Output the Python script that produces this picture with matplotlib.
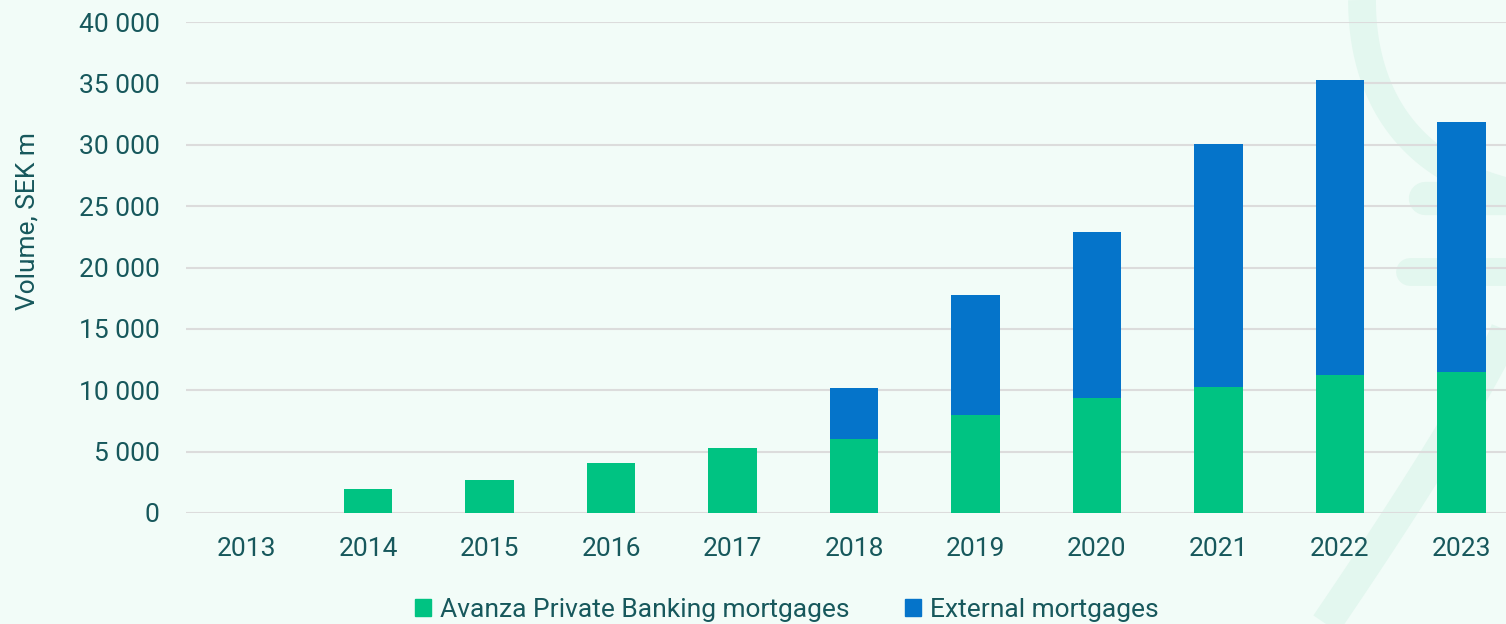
import numpy as np
import matplotlib
matplotlib.use("Agg")
import matplotlib.pyplot as plt
from matplotlib.patches import Patch

years = ["2013", "2014", "2015", "2016", "2017", "2018",
         "2019", "2020", "2021", "2022", "2023"]
private_banking = [0, 1950, 2700, 4050, 5300, 6050, 8000, 9350, 10250, 11250, 11500]
external = [0, 0, 0, 0, 0, 4150, 9750, 13550, 19800, 24050, 20350]
yticks = [0, 5000, 10000, 15000, 20000, 25000, 30000, 35000, 40000]

GREEN = "#00c382"
BLUE = "#0574ca"
TEXT = "#17585c"
BG = "#f2fcf8"
GRID = "#dcdcdc"
DECO = "#e3f7ef"

plt.rcParams["font.family"] = ["Roboto", "DejaVu Sans"]
FS = 19

W, H = 1506, 624
fig = plt.figure(figsize=(W / 100, H / 100), dpi=100, facecolor=BG)

# faint decorative symbol behind the chart
deco = fig.add_axes([0, 0, 1, 1], zorder=0)
deco.set_xlim(0, W); deco.set_ylim(H, 0); deco.axis("off")
t = np.linspace(0, 1, 60)
deco.plot(1362 + 160 * t ** 1.6, 0 + 300 * t ** 0.8 * (1 - 0.35 * t),
          color=DECO, lw=20, solid_capstyle="butt")
deco.plot([1425, 1506], [198, 198], color=DECO, lw=24, solid_capstyle="round")
deco.plot([1410, 1506], [272, 272], color=DECO, lw=20, solid_capstyle="round")
deco.plot(1506 - 180 * t, 330 + 294 * t ** 0.9, color=DECO, lw=22,
          solid_capstyle="butt")

ax = fig.add_axes([186 / W, (H - 513) / H, 1336 / W, (513 - 22) / H], zorder=1)
ax.set_facecolor("none")

x = np.arange(len(years))
ax.bar(x, private_banking, width=0.4, color=GREEN, zorder=3,
       label="Avanza Private Banking mortgages")
ax.bar(x, external, width=0.4, bottom=private_banking, color=BLUE, zorder=3,
       label="External mortgages")

ax.set_xlim(-0.5, len(years) - 0.5)
ax.set_ylim(0, 40000)
ax.set_yticks(yticks)
ax.set_yticklabels([f"{v:,}".replace(",", " ") for v in yticks])
ax.set_xticks(x)
ax.set_xticklabels(years)
ax.grid(axis="y", color=GRID, lw=1.5, zorder=0)
ax.set_axisbelow(True)
for s in ax.spines.values():
    s.set_visible(False)
ax.tick_params(axis="both", length=0, labelsize=FS, colors=TEXT)
ax.tick_params(axis="y", pad=19)
ax.tick_params(axis="x", pad=17.5)
fig.text(28 / W, 1 - 221 / H, "Volume, SEK m", rotation=90, ha="center",
         va="center", fontsize=FS, color=TEXT)

handles = [Patch(color=GREEN, label="Avanza Private Banking mortgages"),
           Patch(color=BLUE, label="External mortgages")]
fig.legend(handles=handles, loc="center", bbox_to_anchor=(787 / W, 1 - 610 / H),
           ncol=2, frameon=False, fontsize=FS, labelcolor=TEXT,
           handlelength=0.6, handleheight=0.6, handletextpad=0.35,
           columnspacing=2.1, borderpad=0)

fig.savefig("out.png", dpi=100, facecolor=BG)
